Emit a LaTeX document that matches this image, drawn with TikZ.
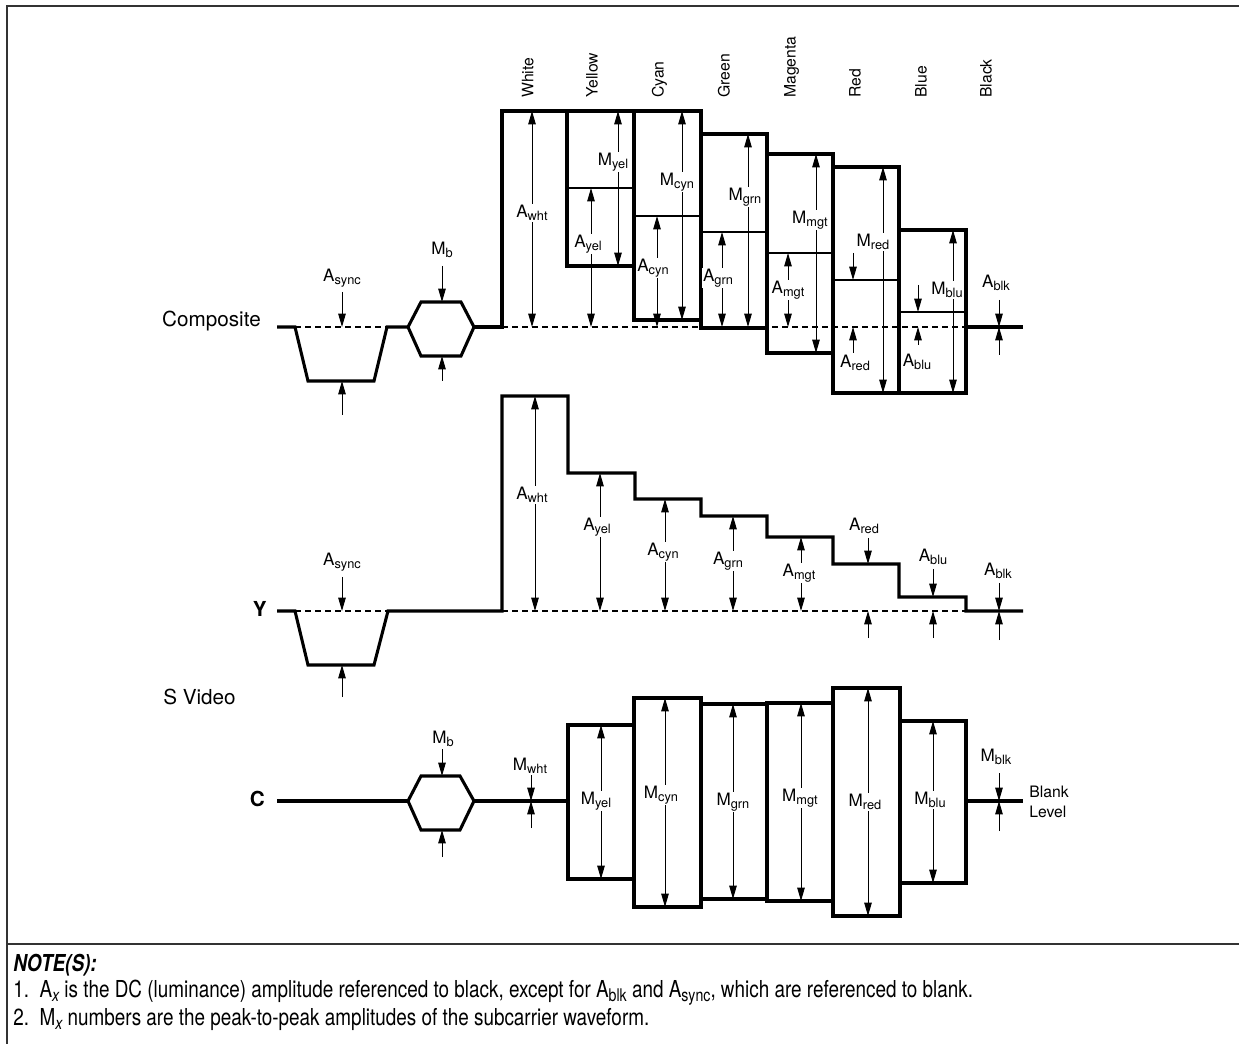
\documentclass[tikz,border=0pt]{standalone}
\usepackage{fontspec}
\setmainfont{TeX Gyre Heros}
\newfontfamily\notefont[FakeStretch=0.81]{TeX Gyre Heros}
\usetikzlibrary{arrows.meta}
\newcommand\lsub[1]{\raisebox{-2.6pt}{\fontsize{9.6}{10}\selectfont #1}}
\newcommand\nsub[1]{\raisebox{-3.2pt}{\fontsize{13.1}{13}\selectfont #1}}

\begin{document}
\begin{tikzpicture}[x=0.75pt, y=-0.75pt,
  >={Triangle[length=10pt,width=5.6pt]},
  wave/.style={line width=2.3pt},
  lvl/.style={line width=0.9pt},
  dim/.style={line width=0.75pt},
  blank/.style={line width=0.8pt, dash pattern=on 4.5pt off 3pt},
  lab/.style={fill=white, inner sep=0.6pt, font=\fontsize{12.8}{14}\selectfont},
  col/.style={rotate=90, anchor=mid west, inner sep=0pt, font=\fontsize{11.8}{13}\selectfont},
  sig/.style={inner sep=0pt, font=\fontsize{15.5}{17}\selectfont},
  note/.style={anchor=west, inner sep=0pt, font=\notefont\fontsize{17.5}{19}\selectfont}]

  \useasboundingbox (0,0) rectangle (1239,1044);

  \newcommand\Ycomp{327}
  \newcommand\Yluma{611}
  \newcommand\Ychro{801}

  %% frame
  \draw[line width=1.4pt, black!80] (1239,6) -- (7,6) -- (7,1044);
  \draw[line width=1.4pt, black!80] (7,944) -- (1239,944);

  %% bar names
  \foreach \x/\name in {530/White, 594/Yellow, 660/Cyan, 726/Green,
                        792/Magenta, 857/Red, 923/Blue, 988/Black}
    \node[col] (bar-\name) at (\x, 98) {\name};

  %% ---------------- composite
  \node[sig, anchor=east] (comp) at (261,321) {Composite};
  \draw[wave] (277,\Ycomp) -- (295,\Ycomp) -- (308,381) -- (374,381) -- (387,\Ycomp) -- (408,\Ycomp);
  \draw[wave] (408,\Ycomp) -- (421,302) -- (461,302) -- (474,\Ycomp) -- (461,356) -- (421,356) -- cycle; % burst
  \draw[wave] (474,\Ycomp) -- (502,\Ycomp) -- (502,111) -- (567,111);
  \draw[wave] (567,111) rectangle (634,266);
  \draw[wave] (634,111) rectangle (701,320);
  \draw[wave] (701,134) rectangle (767,328);
  \draw[wave] (767,154) rectangle (833,353);
  \draw[wave] (833,167) rectangle (899,393);
  \draw[wave] (899,230) rectangle (966,393);
  \draw[wave] (966,\Ycomp) -- (1023,\Ycomp);
  \foreach \l/\r/\y in {567/634/188, 634/701/216, 701/767/232,
                        767/833/253, 833/899/280, 899/966/312}
    \draw[lvl] (\l,\y) -- (\r,\y);
  \draw[blank] (295,\Ycomp) -- (387,\Ycomp);
  \draw[blank] (502,\Ycomp) -- (966,\Ycomp);

  \draw[dim,->] (342,292) -- (342,\Ycomp);
  \draw[dim,->] (342,415) -- (342,381);
  \node[lab] (async-c) at (342,278) {A\lsub{sync}};
  \draw[dim,->] (442,266) -- (442,302);
  \draw[dim,->] (442,381) -- (442,356);
  \node[lab] (mb-c) at (442,250) {M\lsub{b}};
  \draw[dim,<->] (532,111) -- (532,\Ycomp);
  \node[lab] (awht-c) at (532,213) {A\lsub{wht}};
  \draw[dim,<->] (618,111) -- (618,266);
  \node[lab] (myel-c) at (613,162) {M\lsub{yel}};
  \draw[dim,<->] (591,188) -- (591,\Ycomp);
  \node[lab] (ayel-c) at (588,244) {A\lsub{yel}};
  \draw[dim,<->] (682,111) -- (682,320);
  \node[lab] (mcyn-c) at (677,182) {M\lsub{cyn}};
  \draw[dim,<->] (657,216) -- (657,\Ycomp);
  \node[lab] (acyn-c) at (653,268) {A\lsub{cyn}};
  \draw[dim,<->] (748,134) -- (748,\Ycomp);
  \node[lab] (mgrn-c) at (745,197) {M\lsub{grn}};
  \draw[dim,<->] (722,232) -- (722,\Ycomp);
  \node[lab] (agrn-c) at (718,278) {A\lsub{grn}};
  \draw[dim,<->] (816,154) -- (816,353);
  \node[lab] (mmgt-c) at (810,220) {M\lsub{mgt}};
  \draw[dim,<->] (788,253) -- (788,\Ycomp);
  \node[lab] (amgt-c) at (788,290) {A\lsub{mgt}};
  \draw[dim,<->] (883,167) -- (883,393);
  \node[lab] (mred-c) at (873,242) {M\lsub{red}};
  \draw[dim,->] (853,253) -- (853,280);
  \draw[dim,->] (853,353) -- (853,\Ycomp);
  \node[lab] (ared-c) at (855,363) {A\lsub{red}};
  \draw[dim,<->] (953,230) -- (953,393);
  \node[lab] (mblu-c) at (947,290) {M\lsub{blu}};
  \draw[dim,->] (918,285) -- (918,312);
  \draw[dim,->] (918,345) -- (918,\Ycomp);
  \node[lab] (ablu-c) at (917,362) {A\lsub{blu}};
  \draw[dim,->] (999,300) -- (999,\Ycomp);
  \draw[dim,->] (999,355) -- (999,\Ycomp);
  \node[lab] (ablk-c) at (996,283) {A\lsub{blk}};

  %% ---------------- luma
  \node[sig, anchor=east] (luma) at (267,609) {\bfseries Y};
  \node[sig, anchor=west] (svid) at (163,697) {S Video};
  \draw[wave] (277,\Yluma) -- (295,\Yluma) -- (308,665) -- (374,665) -- (388,\Yluma) -- (502,\Yluma)
    -- (502,396) -- (568,396) -- (568,473) -- (635,473) -- (635,499) -- (701,499)
    -- (701,516) -- (767,516) -- (767,537) -- (833,537) -- (833,564) -- (899,564)
    -- (899,597) -- (966,597) -- (966,\Yluma) -- (1023,\Yluma);
  \draw[blank] (295,\Yluma) -- (388,\Yluma);
  \draw[blank] (502,\Yluma) -- (966,\Yluma);

  \draw[dim,->] (342,577) -- (342,\Yluma);
  \draw[dim,->] (342,697) -- (342,665);
  \node[lab] (async-y) at (342,562) {A\lsub{sync}};
  \draw[dim,<->] (535,396) -- (535,\Yluma);
  \node[lab] (awht-y) at (532,495) {A\lsub{wht}};
  \draw[dim,<->] (600,473) -- (600,\Yluma);
  \node[lab] (ayel-y) at (597,527) {A\lsub{yel}};
  \draw[dim,<->] (665,499) -- (665,\Yluma);
  \node[lab] (acyn-y) at (663,552) {A\lsub{cyn}};
  \draw[dim,<->] (733,516) -- (733,\Yluma);
  \node[lab] (agrn-y) at (728,561) {A\lsub{grn}};
  \draw[dim,<->] (801,537) -- (801,\Yluma);
  \node[lab] (amgt-y) at (799,573) {A\lsub{mgt}};
  \draw[dim,->] (868,538) -- (868,564);
  \draw[dim,->] (868,638) -- (868,\Yluma);
  \node[lab] (ared-y) at (864,526) {A\lsub{red}};
  \draw[dim,->] (933,569) -- (933,597);
  \draw[dim,->] (933,638) -- (933,\Yluma);
  \node[lab] (ablu-y) at (933,557) {A\lsub{blu}};
  \draw[dim,->] (999,583) -- (999,\Yluma);
  \draw[dim,->] (999,640) -- (999,\Yluma);
  \node[lab] (ablk-y) at (998,571) {A\lsub{blk}};

  %% ---------------- chroma
  \node[sig, anchor=east] (chro) at (265,799) {\bfseries C};
  \draw[wave] (277,\Ychro) -- (408,\Ychro);
  \draw[wave] (408,\Ychro) -- (421,776) -- (460,776) -- (474,\Ychro) -- (460,830) -- (421,830) -- cycle; % burst
  \draw[wave] (474,\Ychro) -- (568,\Ychro);
  \draw[wave] (568,725) rectangle (634,879);
  \draw[wave] (634,698) rectangle (701,907);
  \draw[wave] (701,704) rectangle (767,899);
  \draw[wave] (767,703) rectangle (833,901);
  \draw[wave] (833,688) rectangle (900,916);
  \draw[wave] (900,721) rectangle (966,883);
  \draw[wave] (966,\Ychro) -- (1023,\Ychro);

  \draw[dim,->] (442,749) -- (442,776);
  \draw[dim,->] (442,857) -- (442,830);
  \node[lab] (mb-ch) at (443,739) {M\lsub{b}};
  \draw[dim,->] (531,775) -- (531,\Ychro);
  \draw[dim,->] (531,828) -- (531,\Ychro);
  \node[lab] (mwht-ch) at (530,766) {M\lsub{wht}};
  \draw[dim,<->] (601,725) -- (601,879);
  \node[lab] (myel-ch) at (596,801) {M\lsub{yel}};
  \draw[dim,<->] (665,698) -- (665,907);
  \node[lab] (mcyn-ch) at (661,795) {M\lsub{cyn}};
  \draw[dim,<->] (733,704) -- (733,899);
  \node[lab] (mgrn-ch) at (733,802) {M\lsub{grn}};
  \draw[dim,<->] (801,703) -- (801,901);
  \node[lab] (mmgt-ch) at (800,798) {M\lsub{mgt}};
  \draw[dim,<->] (868,688) -- (868,916);
  \node[lab] (mred-ch) at (865,802) {M\lsub{red}};
  \draw[dim,<->] (933,721) -- (933,883);
  \node[lab] (mblu-ch) at (930,800) {M\lsub{blu}};
  \draw[dim,->] (999,773) -- (999,\Ychro);
  \draw[dim,->] (999,831) -- (999,\Ychro);
  \node[lab] (mblk-ch) at (996,757) {M\lsub{blk}};
  \node[anchor=west, align=left, inner sep=0pt, font=\fontsize{11.8}{15}\selectfont]
    (blank) at (1029,802) {Blank\\Level};

  %% ---------------- notes
  \node[note] (notes) at (13,965) {\bfseries\itshape NOTE(S):};
  \node[note] (note1) at (13,993) {1.\ \ A\nsub{\itshape x} is the DC (luminance) amplitude referenced to black, except for A\nsub{blk} and A\nsub{sync}, which are referenced to blank.};
  \node[note] (note2) at (13,1019) {2.\ \ M\nsub{\itshape x} numbers are the peak-to-peak amplitudes of the subcarrier waveform.};
\end{tikzpicture}
\end{document}
